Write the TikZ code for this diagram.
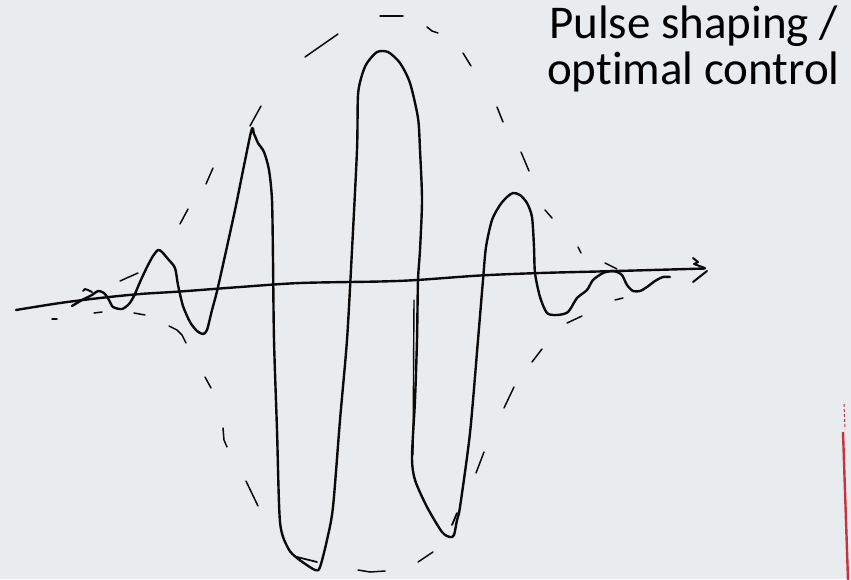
\documentclass[tikz,border=0pt]{standalone}
\usepackage{fontspec}
\setmainfont{Carlito}[Ligatures={NoCommon}]
\definecolor{bg}{HTML}{E9ECEE}
\definecolor{ink}{HTML}{0A0A0A}
\definecolor{redline}{HTML}{C9343C}
\tikzset{
  wave/.style={draw=ink, line width=2.4pt, line join=round, line cap=round},
  env/.style={draw=ink, line width=1.5pt, line cap=round, line join=round},
  axisline/.style={draw=ink, line width=2.4pt, line cap=round, line join=round},
  label/.style={font=\fontsize{47}{46}\selectfont, text=black, inner sep=0pt, anchor=base}
}
\begin{document}
\begin{tikzpicture}[x=1pt,y=-1pt]
\fill[bg] (0,0) rectangle (851,579);
\useasboundingbox (0,0) rectangle (851,579);

% axis
\draw[axisline] plot[smooth, tension=0.5] coordinates {(16,310) (60,303) (100,298) (140,294) (180,291.5) (240,287) (300,283) (380,281.5) (417,280) (480,275.5) (540,273) (617,271) (705,268.5)};
% arrow head strokes
\draw[env, line width=2pt] (693,258) -- (698,262) -- (694,264) -- (705,268);
\draw[env, line width=2pt] (693,282) -- (707,271);

% wave
\draw[wave] plot[smooth, tension=0.45] coordinates {(72,306) (82,300) (92,295) (98,291) (104,293) (109,300) (113,307) (122,309) (129,304) (134,296) (140,282) (147,267) (153,256) (158,250) (162,252) (168,259) (175,268) (178,285) (183,306) (190,322) (197,331) (203,334) (207,330) (212,310) (218,287) (235,210) (251,132) (254,134) (258,143) (264,152) (269,170) (272,200) (273,260) (274,340) (277,430) (280,522) (288,548) (297,558) (315,570) (320,567) (327,540) (333,507) (340,420) (347,340) (352,250) (357,150) (358,95) (362,75) (367,63) (377,52) (388,52) (400,63) (410,83) (418,118) (420,150) (422,200) (420,250) (418,280) (417,340) (415,400) (412,457) (415,480) (427,507) (442,532) (450,537) (454,535) (457,520) (460,507) (470,433) (478,340) (483,280) (486,247) (492,220) (500,205) (507,197) (513,193) (520,195) (527,203) (532,217) (534,247) (535,273) (540,297) (547,313) (557,315) (568,312) (577,298) (587,290) (593,280) (603,273) (612,271) (617,272) (622,275) (627,285) (633,291) (640,291) (647,287) (655,281) (663,277) (670,277)};
% small extra strokes of the wave
\draw[env, line width=2pt] (83,291) -- (85,289) -- (88,290) -- (92,292);
\draw[env, line width=1.8pt] (297,557) -- (317,562);
\draw[env, line width=1.8pt] (452,525) -- (457,513);
\draw[wave, line width=1.4pt] (414,300) -- (413,455);

% dashed envelope strokes
\draw[env] (380,16) -- (403,16);
\draw[env] (305,57) -- (338,34);
\draw[env] (427,27) -- (432,31) -- (438,33);
\draw[env] (463,53) -- (471,66);
\draw[env] (497,107) -- (503,122);
\draw[env] (521,152) -- (529,171);
\draw[env] (545,210) -- (552,218);
\draw[env] (578,247) -- (581,253);
\draw[env] (605,263) -- (617,269);
\draw[env] (615,300) -- (623,298);
\draw[env] (567,323) -- (582,316);
\draw[env] (532,362) -- (542,349);
\draw[env] (504,408) -- (514,387);
\draw[env] (476,473) -- (484,452);
\draw[env] (418,562) -- (433,552);
\draw[env] (358,570) -- (370,572) -- (385,571);
\draw[env] (246,481) -- (258,506);
\draw[env] (223,428) -- (224,440) -- (227,447);
\draw[env] (205,377) -- (211,388);
\draw[env] (169,326) -- (177,330) -- (182,335) -- (186,343);
\draw[env] (134,313) -- (145,315);
\draw[env] (94,313) -- (102,312);
\draw[env] (52,319) -- (57,319);
\draw[env] (120,281) -- (138,273);
\draw[env] (180,224) -- (188,209);
\draw[env] (206,184) -- (213,168);
\draw[env] (250,126) -- (261,106);

% red line at right edge
\draw[redline, line width=1pt, dash pattern=on 3pt off 2pt] (844,404) -- (845,429);
\draw[redline, line width=2.4pt] (843,432) -- (848,580);

% label
\node[label, text depth=0pt] (title1) at (693.5,38) {Pulse shaping /};
\node[label] (title2) at (693.5,84) {optimal control};
\end{tikzpicture}
\end{document}
